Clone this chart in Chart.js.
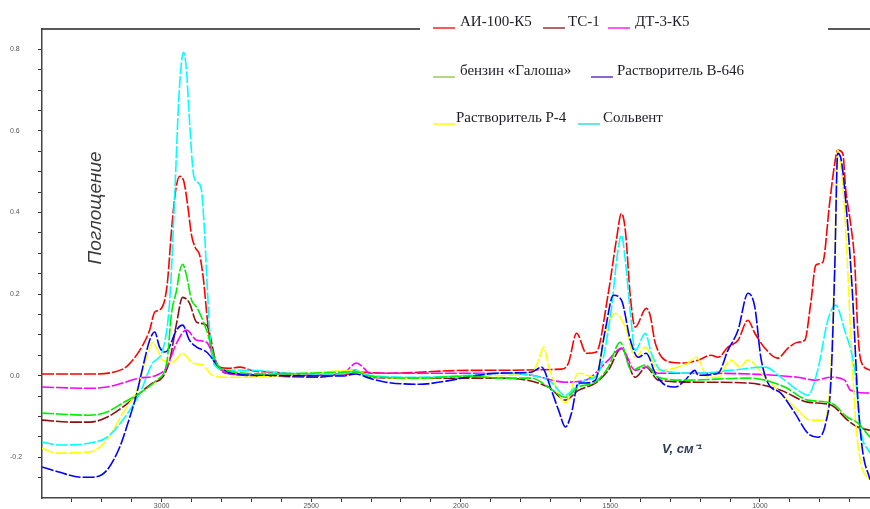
<!DOCTYPE html>
<html><head><meta charset="utf-8">
<script src="https://cdn.jsdelivr.net/npm/chart.js@4/dist/chart.umd.min.js"></script>
<style>html,body{margin:0;padding:0;background:#fff;}canvas{display:block;}</style>
</head><body>
<canvas id="c" width="870" height="509"></canvas>
<script>
// ---- data: [wavenumber cm-1, absorbance] ----
const seriesNames = ['АИ-100-К5','ТС-1','ДТ-3-К5','бензин «Галоша»','Растворитель В-646','Растворитель Р-4','Сольвент'];
const ai100 = [[3400,0.004],[3240,0.004],[3130,0.016],[3097,0.038],[3063,0.075],[3040,0.112],[3023,0.156],[3007,0.161],[2990,0.185],[2980,0.234],[2967,0.357],[2953,0.455],[2940,0.489],[2927,0.479],[2913,0.418],[2900,0.344],[2887,0.313],[2873,0.296],[2860,0.234],[2847,0.136],[2830,0.045],[2807,0.021],[2773,0.018],[2740,0.021],[2690,0.011],[2640,0.009],[2473,0.001],[2373,0.004],[2350,0.009],[2250,0.006],[1973,0.013],[1663,0.016],[1640,0.031],[1613,0.104],[1580,0.055],[1547,0.058],[1507,0.202],[1480,0.332],[1463,0.398],[1450,0.357],[1433,0.192],[1417,0.119],[1380,0.165],[1367,0.148],[1350,0.080],[1297,0.033],[1250,0.031],[1207,0.038],[1163,0.050],[1140,0.045],[1107,0.070],[1073,0.087],[1040,0.136],[1017,0.104],[983,0.067],[940,0.043],[907,0.067],[873,0.082],[850,0.087],[830,0.178],[813,0.271],[790,0.278],[767,0.423],[750,0.52],[740,0.553],[723,0.545],[713,0.455],[697,0.374],[683,0.276],[673,0.112],[663,0.038],[632,0.013]];
const ts1 = [[3400,-0.109],[3297,-0.114],[3240,-0.114],[3183,-0.102],[3130,-0.077],[3073,-0.043],[3030,-0.018],[2997,-0.004],[2973,0.038],[2950,0.129],[2930,0.192],[2907,0.178],[2883,0.131],[2850,0.124],[2817,0.031],[2783,0.006],[2640,-0.001],[2473,-0.004],[2350,0.013],[2307,-0.004],[2140,-0.006],[1873,-0.006],[1707,-0.028],[1650,-0.060],[1607,-0.036],[1550,-0.018],[1507,0.013],[1463,0.067],[1417,-0.004],[1380,0.021],[1340,-0.011],[1207,-0.016],[1040,-0.018],[930,-0.036],[840,-0.065],[763,-0.072],[707,-0.109],[673,-0.126],[632,-0.134]];
const dt3 = [[3400,-0.028],[3240,-0.031],[3183,-0.028],[3073,-0.006],[3017,0.001],[2983,0.021],[2950,0.080],[2917,0.112],[2883,0.087],[2850,0.082],[2817,0.031],[2783,0.006],[2640,0.001],[2397,0.001],[2373,0.018],[2350,0.031],[2323,0.018],[2307,0.006],[1873,0.006],[1763,0.001],[1650,-0.016],[1583,-0.011],[1507,0.038],[1463,0.067],[1417,0.013],[1380,0.021],[1340,0.006],[1207,0.006],[873,-0.004],[817,-0.011],[763,-0.004],[717,-0.011],[697,-0.036],[632,-0.043]];
const galosha = [[3400,-0.092],[3240,-0.097],[3183,-0.089],[3130,-0.067],[3073,-0.043],[3017,-0.011],[2983,0.031],[2967,0.153],[2950,0.210],[2940,0.254],[2930,0.273],[2917,0.246],[2900,0.185],[2883,0.168],[2850,0.112],[2817,0.031],[2783,0.013],[2640,0.004],[2350,0.009],[2307,-0.001],[2140,-0.006],[1973,-0.001],[1873,-0.006],[1763,-0.006],[1707,-0.028],[1650,-0.053],[1607,-0.028],[1550,-0.016],[1507,0.021],[1467,0.082],[1430,0.013],[1383,0.026],[1340,-0.004],[1250,-0.011],[1040,-0.006],[983,-0.011],[917,-0.028],[840,-0.060],[763,-0.067],[707,-0.102],[673,-0.116],[632,-0.151]];
const b646 = [[3400,-0.224],[3340,-0.237],[3273,-0.249],[3230,-0.249],[3183,-0.232],[3140,-0.175],[3117,-0.126],[3083,-0.043],[3063,0.021],[3040,0.087],[3023,0.107],[3007,0.070],[2990,0.058],[2980,0.062],[2950,0.112],[2930,0.124],[2907,0.087],[2883,0.070],[2850,0.058],[2807,0.021],[2763,0.006],[2640,0.001],[2397,-0.001],[2350,0.004],[2307,-0.006],[2250,-0.016],[2140,-0.021],[2030,-0.011],[1983,-0.004],[1873,0.006],[1763,0.009],[1730,0.021],[1697,-0.036],[1673,-0.085],[1650,-0.126],[1630,-0.092],[1607,-0.018],[1583,-0.018],[1550,-0.011],[1517,0.112],[1490,0.197],[1463,0.185],[1433,0.087],[1407,0.045],[1380,0.055],[1350,0.006],[1317,-0.023],[1283,-0.028],[1250,-0.011],[1217,0.013],[1207,0.001],[1140,0.006],[1107,0.062],[1073,0.112],[1040,0.202],[1017,0.168],[997,0.045],[973,-0.018],[930,-0.043],[883,-0.092],[840,-0.141],[807,-0.151],[780,-0.116],[763,-0.018],[750,0.259],[740,0.545],[730,0.535],[707,0.374],[690,0.192],[673,-0.053],[657,-0.183],[632,-0.255]];
const p4 = [[3400,-0.178],[3350,-0.190],[3240,-0.187],[3183,-0.158],[3130,-0.092],[3083,-0.036],[3050,0.045],[3030,0.082],[3013,0.062],[2997,0.038],[2963,0.033],[2930,0.055],[2897,0.031],[2863,0.026],[2830,0.001],[2783,-0.004],[2740,-0.004],[2583,0.001],[2350,0.013],[2307,-0.001],[2140,-0.006],[1973,-0.001],[1763,0.006],[1740,0.038],[1723,0.070],[1707,0.026],[1690,-0.011],[1650,-0.067],[1607,0.006],[1550,-0.004],[1517,0.104],[1483,0.153],[1450,0.119],[1417,0.045],[1383,0.070],[1340,0.013],[1240,0.031],[1213,0.045],[1173,-0.004],[1140,-0.004],[1097,0.038],[1067,0.021],[1040,0.038],[983,-0.004],[930,-0.043],[873,-0.085],[830,-0.109],[783,-0.109],[763,0.013],[750,0.276],[740,0.553],[730,0.52],[713,0.357],[697,0.112],[680,-0.109],[663,-0.214],[632,-0.255]];
const solvent = [[3400,-0.163],[3340,-0.170],[3240,-0.165],[3183,-0.151],[3130,-0.109],[3073,-0.043],[3030,0.031],[2997,0.062],[2973,0.185],[2957,0.430],[2943,0.675],[2933,0.773],[2927,0.793],[2917,0.749],[2907,0.626],[2893,0.491],[2880,0.474],[2867,0.455],[2857,0.357],[2847,0.210],[2837,0.087],[2823,0.026],[2783,0.013],[2697,0.013],[2583,0.006],[2407,0.004],[2350,0.011],[2307,0.001],[2140,-0.004],[1973,0.001],[1873,0.006],[1707,-0.011],[1650,-0.048],[1617,-0.028],[1583,-0.011],[1540,0.006],[1497,0.161],[1477,0.295],[1463,0.344],[1450,0.283],[1433,0.153],[1417,0.062],[1383,0.104],[1363,0.055],[1330,0.013],[1207,0.006],[1097,0.013],[983,0.021],[930,-0.004],[873,-0.036],[840,-0.048],[807,0.013],[773,0.136],[747,0.173],[717,0.112],[683,0.013],[663,-0.134],[632,-0.190]];
const xTickValues = [3300,3200,3100,3000,2900,2800,2700,2600,2500,2400,2300,2200,2100,2000,1900,1800,1700,1600,1500,1400,1300,1200,1100,1000,900,800,700];
const xLabelValues = [3000,2500,2000,1500,1000];
const yTickValues = [-0.25,-0.2,-0.15,-0.1,-0.05,0,0.05,0.1,0.15,0.2,0.25,0.3,0.35,0.4,0.45,0.5,0.55,0.6,0.65,0.7,0.75,0.8];
const yLabelValues = [-0.2,0,0.2,0.4,0.6,0.8];
const yTitle = 'Поглощение';
const xTitle = 'V, см⁻¹';

const lineColors = ['#ff0000','#8b1010','#ff00ff','#00ee00','#0000ff','#ffff00','#00ffff'];
const legendColors = ['#ff2020','#a03030','#ff20ff','#99cc55','#6633cc','#ffff00','#33dddd'];
const allSeries = [ai100, ts1, dt3, galosha, b646, p4, solvent];
const drawOrder = [6,5,4,0,1,3,2];

const datasets = allSeries.map((s,i)=>({
  label: seriesNames[i],
  data: s.map(p=>({x:p[0], y:p[1]})),
  borderColor: lineColors[i],
  borderWidth: 1.6,
  borderDash: [12,2],
  pointRadius: 0,
  cubicInterpolationMode: 'monotone',
  fill: false,
  order: drawOrder[i]
}));

const legendItems = [
  {i:0, lx:433, tx:460, y:26},
  {i:1, lx:543, tx:568, y:26},
  {i:2, lx:608, tx:635, y:26},
  {i:3, lx:433, tx:460, y:75},
  {i:4, lx:591, tx:617, y:75},
  {i:5, lx:433, tx:456, y:122},
  {i:6, lx:578, tx:603, y:122}
];

const deco = {
  id:'deco',
  afterDatasetsDraw(chart){
    const ctx = chart.ctx, a = chart.chartArea;
    ctx.save();
    ctx.strokeStyle = '#222'; ctx.lineWidth = 1.5;
    ctx.beginPath(); ctx.moveTo(a.left, a.top); ctx.lineTo(a.right, a.top); ctx.stroke();
    ctx.fillStyle = '#fff';
    ctx.fillRect(420, 0, 408, 138);
    ctx.textBaseline = 'alphabetic';
    ctx.font = '15px "Liberation Serif", "DejaVu Serif", serif';
    legendItems.forEach(it=>{
      ctx.strokeStyle = legendColors[it.i]; ctx.lineWidth = 1.5;
      ctx.beginPath(); ctx.moveTo(it.lx, it.y+2); ctx.lineTo(it.lx+22, it.y+2); ctx.stroke();
      ctx.fillStyle = '#1c1c28';
      ctx.fillText(seriesNames[it.i], it.tx, it.y);
    });
    // axis titles
    ctx.fillStyle = '#3a3a3a';
    ctx.font = 'italic 19px "Liberation Sans", Arial, sans-serif';
    ctx.save();
    ctx.translate(101, 208); ctx.rotate(-Math.PI/2);
    ctx.textAlign = 'center';
    ctx.fillText(yTitle, 0, 0);
    ctx.restore();
    ctx.fillStyle = '#2a3a5a';
    ctx.font = 'italic bold 13px "Liberation Sans", Arial, sans-serif';
    ctx.textAlign = 'left';
    ctx.fillText(xTitle, 662, 453);
    ctx.restore();
  }
};

new Chart(document.getElementById('c'), {
  type:'line',
  data:{datasets},
  options:{
    responsive:false, animation:false, devicePixelRatio:1,
    layout:{padding:{top:29,left:10,right:0,bottom:0}},
    plugins:{legend:{display:false}, tooltip:{enabled:false}},
    scales:{
      x:{
        type:'linear', reverse:true, min:632, max:3400,
        afterBuildTicks:(s)=>{ s.ticks = xTickValues.map(v=>({value:v})); },
        afterFit:(s)=>{ s.height = 11; },
        grid:{display:true, drawOnChartArea:false, drawTicks:true, tickLength:4, tickColor:'#333', tickWidth:1},
        border:{display:true, color:'#444', width:1.5},
        ticks:{autoSkip:false, maxRotation:0, padding:0, color:'#555', font:{size:7, family:'"Liberation Sans", Arial'},
          callback:(v)=> xLabelValues.includes(v) ? String(v) : ''}
      },
      y:{
        type:'linear', min:-0.3, max:0.85,
        afterBuildTicks:(s)=>{ s.ticks = yTickValues.map(v=>({value:v})); },
        afterFit:(s)=>{ s.width = 32; },
        grid:{display:true, drawOnChartArea:false, drawTicks:true, tickLength:4, tickColor:'#333', tickWidth:1},
        border:{display:true, color:'#444', width:1.5},
        ticks:{autoSkip:false, padding:1, crossAlign:'far', color:'#555', font:{size:7, family:'"Liberation Sans", Arial'},
          callback:(v)=> yLabelValues.some(l=>Math.abs(l-v)<1e-9) ? v.toFixed(1) : ''}
      }
    }
  },
  plugins:[deco]
});
</script>
</body></html>
